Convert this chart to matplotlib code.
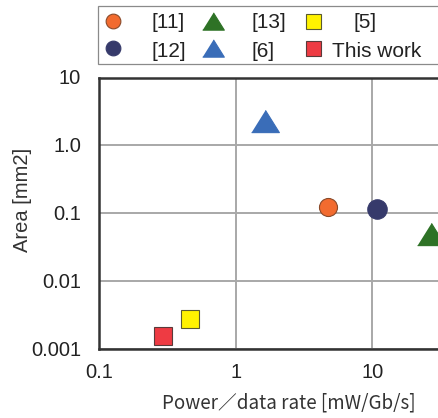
import matplotlib
matplotlib.use("Agg")
import matplotlib.pyplot as plt
from matplotlib.lines import Line2D
from matplotlib.patches import Rectangle
from matplotlib.transforms import ScaledTranslation

plt.rcParams["font.family"] = ["Liberation Sans", "DejaVu Sans"]

# data
labels = ["[11]", "[12]", "[13]", "[6]", "[5]", "This work"]
power = [4.75, 10.8, 26.7, 1.64, 0.46, 0.29]          # mW/Gb/s
area = [0.124, 0.115, 0.049, 2.28, 0.0028, 0.00153]   # mm2
colors = ["#F26B2F", "#363A6B", "#2E7226", "#3A6DB8", "#FFF200", "#EE3B43"]
edges = ["#8A4A2A", "#363A6B", "#2E7226", "#3A6DB8", "#5A5A30", "#5A3A3A"]

x_ticks = [0.1, 1, 10]
x_ticklabels = ["0.1", "1", "10"]
y_ticks = [0.001, 0.01, 0.1, 1, 10]
y_ticklabels = ["0.001", "0.01", "0.1", "1.0", "10"]

# wide, flat triangle like the original
tri = [(-1, -0.8), (1, -0.8), (0, 0.8)]
shapes = ["o", "o", tri, tri, "s", "s"]
sizes = [13, 14, 20, 20, 12.5, 12.5]

W, H = 439, 418
fig = plt.figure(figsize=(W / 100, H / 100), dpi=100)
# axes run past the right edge, as in the cropped original
ax = fig.add_axes([99.5 / W, 69 / H, 409.5 / W, 271.5 / H])

for x, y, c, e, m, s in zip(power, area, colors, edges, shapes, sizes):
    ax.plot([x], [y], linestyle="none", marker=m, markersize=s,
            markerfacecolor=c, markeredgecolor=e, markeredgewidth=0.8,
            zorder=3, clip_on=False)

ax.set_xscale("log")
ax.set_yscale("log")
ax.set_xlim(0.1, 100)
ax.set_ylim(0.001, 10)
ax.set_xticks(x_ticks)
ax.set_xticklabels(x_ticklabels)
ax.set_yticks(y_ticks)
ax.set_yticklabels([])
ax.minorticks_off()
ax.tick_params(length=0, labelsize=14.5, colors="#222222")
ax.tick_params(axis="x", pad=10)

# y tick labels placed by hand, right aligned a fixed gap left of the spine
ytrans = ax.get_yaxis_transform() + ScaledTranslation(-0.185, -0.01, fig.dpi_scale_trans)
for v, lab in zip(y_ticks, y_ticklabels):
    ax.text(0, v, lab, transform=ytrans, ha="right", va="center",
            fontsize=14.5, color="#222222")

ax.grid(True, color="#A8A8A8", linewidth=1.4)
ax.set_axisbelow(True)
for side in ["left", "top", "bottom", "right"]:
    ax.spines[side].set_color("#333333")
    ax.spines[side].set_linewidth(1.8)

fig.text(23 / W, 1 - 200 / H, "Area [mm2]", rotation=90, ha="center",
         va="center", fontsize=14.5, color="#333333")
fig.text(289 / W, 1 - 403 / H, "Power／data rate [mW/Gb/s]", ha="center",
         va="center", fontsize=13.5, color="#333333",
         family=["Noto Sans CJK JP", "DejaVu Sans"])

# legend drawn by hand: 3 columns x 2 rows, frame runs off the right edge
fig.patches.append(Rectangle((98.3 / W, 1 - 64 / H), 400 / W, 58 / H,
                             transform=fig.transFigure, facecolor="white",
                             edgecolor="#8A8A8A", linewidth=0.9))
marker_x = [113, 113, 213, 213, 313.5, 313.5]
marker_y = [20.5, 48, 20.5, 48, 20.5, 48]
text_x = [151.5, 151.5, 251.5, 251.5, 353.5, 332.5]
text_y = [23, 51.5, 23, 51.5, 23, 51.5]
leg_sizes = [10.6, 10.6, 15.6, 15.6, 10.8, 10.8]
for i, lab in enumerate(labels):
    fig.lines.append(Line2D([marker_x[i] / W], [1 - marker_y[i] / H],
                            transform=fig.transFigure, linestyle="none",
                            marker=shapes[i], markersize=leg_sizes[i],
                            markerfacecolor=colors[i], markeredgecolor=edges[i],
                            markeredgewidth=0.8))
    fig.text(text_x[i] / W, 1 - text_y[i] / H, lab, ha="left", va="center",
             fontsize=15, color="#222222")

fig.savefig("out.png", dpi=100)
